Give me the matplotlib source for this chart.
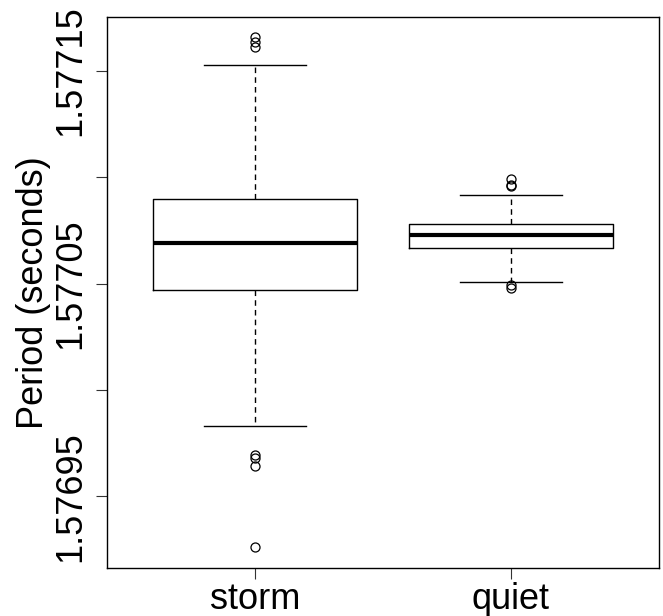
import matplotlib
matplotlib.use('Agg')
import matplotlib.pyplot as plt

# pendulum period
groups = ['storm', 'quiet']
whislo = [1.5769830, 1.5770509]
q1 = [1.5770470, 1.5770667]
med = [1.5770691, 1.5770729]
q3 = [1.5770898, 1.5770779]
whishi = [1.5771530, 1.5770918]
fliers_storm = [1.5771661, 1.5771638, 1.5771614,
                1.5769694, 1.5769678, 1.5769643, 1.5769260]
fliers_quiet = [1.5770994, 1.5770966, 1.5770957, 1.5770493, 1.5770481]

ytick_vals = [1.57695, 1.57700, 1.57705, 1.57710, 1.57715]
ytick_labels = ['1.57695', '', '1.57705', '', '1.57715']

plt.rcParams['font.family'] = ['Liberation Sans', 'DejaVu Sans']

fliers = [fliers_storm, fliers_quiet]
stats = []
for i in range(len(groups)):
    stats.append({'label': groups[i], 'whislo': whislo[i], 'q1': q1[i],
                  'med': med[i], 'q3': q3[i], 'whishi': whishi[i],
                  'fliers': fliers[i]})

fig = plt.figure(figsize=(6.63, 6.16), dpi=100)
ax = fig.add_axes([0.161, 0.0784, 0.8334, 0.894])

ax.bxp(stats, positions=[1, 2], widths=0.8, capwidths=0.4,
       boxprops=dict(color='black', linewidth=1.0),
       medianprops=dict(color='black', linewidth=3.0),
       whiskerprops=dict(color='black', linewidth=1.0, linestyle=(0, (4, 3))),
       capprops=dict(color='black', linewidth=1.0),
       flierprops=dict(marker='o', markerfacecolor='none', markeredgecolor='black',
                       markersize=6.5, markeredgewidth=0.9))

ax.set_xlim(0.42, 2.58)
ax.set_ylim(1.5769164, 1.5771754)
ax.set_yticks(ytick_vals)
ax.set_yticklabels(ytick_labels, rotation=90, va='center')
ax.set_xticks([1, 2])
ax.set_xticklabels(groups)
ax.tick_params(axis='both', labelsize=26, length=8, width=0.8, color='#333333')
ax.tick_params(axis='y', pad=5)
ax.tick_params(axis='x', pad=2)
ax.set_ylabel('Period (seconds)', fontsize=26, labelpad=2)
for s in ax.spines.values():
    s.set_linewidth(1.0)
    s.set_color('black')

plt.savefig('out.png', dpi=100)
